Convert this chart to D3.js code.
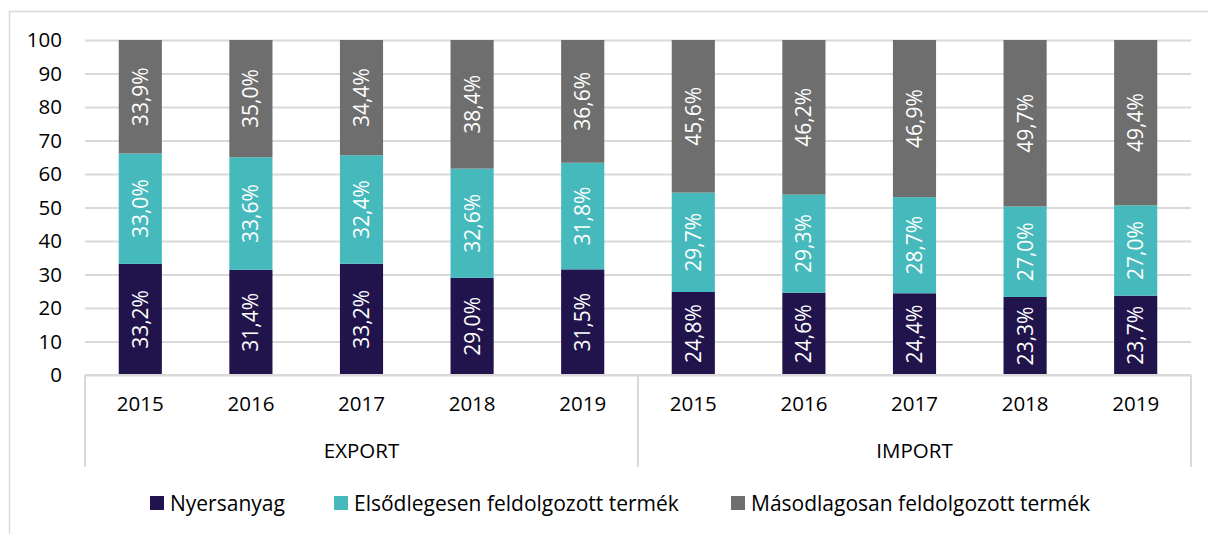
<!DOCTYPE html>
<html>
<head>
<meta charset="utf-8">
<script src="https://cdn.jsdelivr.net/npm/d3@7"></script>
<style>
  body { margin: 0; background: #fff; }
  text { font-family: "Open Sans", sans-serif; }
</style>
</head>
<body>
<div id="chart"></div>
<script>
// adatok
const groups = ['EXPORT', 'IMPORT'];
const years = ['2015', '2016', '2017', '2018', '2019'];
const seriesNames = ['Nyersanyag', 'Elsődlegesen feldolgozott termék', 'Másodlagosan feldolgozott termék'];
const nyersanyag = [33.2, 31.4, 33.2, 29.0, 31.5, 24.8, 24.6, 24.4, 23.3, 23.7];
const elsodleges = [33.0, 33.6, 32.4, 32.6, 31.8, 29.7, 29.3, 28.7, 27.0, 27.0];
const masodlagos = [33.9, 35.0, 34.4, 38.4, 36.6, 45.6, 46.2, 46.9, 49.7, 49.4];
const yTicks = [0, 10, 20, 30, 40, 50, 60, 70, 80, 90, 100];
const colors = ['#21134b', '#45b9bb', '#6e6e6e'];

const width = 1208, height = 534;
const margin = { top: 40, right: 17, bottom: 159, left: 85 };
const fs = 20.5;

const svg = d3.select('#chart').append('svg')
  .attr('width', width)
  .attr('height', height);

// keret
svg.append('path')
  .attr('d', `M9.5,${height} V11.5 H${width}`)
  .attr('fill', 'none')
  .attr('stroke', '#d9d9d9')
  .attr('stroke-width', 1.5);

// táblázat a stackhez
const keys = [];
groups.forEach(g => years.forEach(y => keys.push(g + '|' + y)));
const table = keys.map((k, i) => ({
  key: k, s0: nyersanyag[i], s1: elsodleges[i], s2: masodlagos[i]
}));

const stacked = d3.stack()
  .keys(['s0', 's1', 's2'])
  .offset(d3.stackOffsetExpand)(table);

const x = d3.scaleBand()
  .domain(keys)
  .range([margin.left, width - margin.right])
  .paddingInner(0.61)
  .paddingOuter(0.305);

const y = d3.scaleLinear()
  .domain([0, 100])
  .range([height - margin.bottom, margin.top]);

// rácsvonalak + y tengely
svg.append('g')
  .attr('transform', `translate(${margin.left},0)`)
  .call(d3.axisLeft(y).tickValues(yTicks).tickSize(-(width - margin.right - margin.left)).tickPadding(23))
  .call(g => g.select('.domain').remove())
  .call(g => g.selectAll('.tick line').attr('stroke', '#d9d9d9').attr('stroke-width', 2))
  .call(g => g.selectAll('.tick text').attr('font-size', fs).attr('fill', '#000'));

// oszlopok
const layer = svg.append('g').selectAll('g')
  .data(stacked)
  .join('g')
  .attr('fill', (d, i) => colors[i]);

layer.selectAll('rect')
  .data(d => d)
  .join('rect')
  .attr('x', d => x(d.data.key))
  .attr('y', d => y(d[1] * 100))
  .attr('height', d => y(d[0] * 100) - y(d[1] * 100))
  .attr('width', x.bandwidth());

// címkék
const origVals = [nyersanyag, elsodleges, masodlagos];
layer.each(function (s, si) {
  d3.select(this).selectAll('text')
    .data(s)
    .join('text')
    .attr('transform', d => {
      const cx = x(d.data.key) + x.bandwidth() / 2;
      const cy = y((d[0] + d[1]) / 2 * 100);
      return `translate(${cx},${cy}) rotate(-90)`;
    })
    .attr('text-anchor', 'middle')
    .attr('dy', '0.36em')
    .attr('font-size', 21)
    .attr('fill', '#fff')
    .text((d, i) => origVals[si][i].toFixed(1).replace('.', ',') + '%');
});

// x tengely (évek)
const axisY = height - margin.bottom;
svg.append('g')
  .attr('transform', `translate(0,${axisY})`)
  .call(d3.axisBottom(x).tickSize(0).tickPadding(21).tickFormat(k => k.split('|')[1]))
  .call(g => g.select('.domain').remove())
  .call(g => g.selectAll('.tick text').attr('font-size', fs).attr('fill', '#000'));

svg.append('line')
  .attr('x1', margin.left).attr('x2', width - margin.right)
  .attr('y1', axisY).attr('y2', axisY)
  .attr('stroke', '#d9d9d9').attr('stroke-width', 2);

// csoport elválasztók
const groupEdges = [margin.left, (margin.left + width - margin.right) / 2, width - margin.right];
svg.append('g').selectAll('line')
  .data(groupEdges)
  .join('line')
  .attr('x1', d => d).attr('x2', d => d)
  .attr('y1', axisY).attr('y2', axisY + 92)
  .attr('stroke', '#d9d9d9').attr('stroke-width', 2);

svg.append('g').selectAll('text')
  .data(groups)
  .join('text')
  .attr('x', (d, i) => (groupEdges[i] + groupEdges[i + 1]) / 2)
  .attr('y', axisY + 83)
  .attr('text-anchor', 'middle')
  .attr('font-size', fs)
  .attr('fill', '#000')
  .text(d => d);

// jelmagyarázat
const legendX = [150, 334, 731];
const legend = svg.append('g').selectAll('g')
  .data(seriesNames)
  .join('g')
  .attr('transform', (d, i) => `translate(${legendX[i]},496)`);

legend.append('rect')
  .attr('width', 14).attr('height', 14)
  .attr('fill', (d, i) => colors[i]);

legend.append('text')
  .attr('x', 20).attr('y', 7)
  .attr('dy', '0.36em')
  .attr('font-size', 21)
  .attr('fill', '#000')
  .text(d => d);
</script>
</body>
</html>
